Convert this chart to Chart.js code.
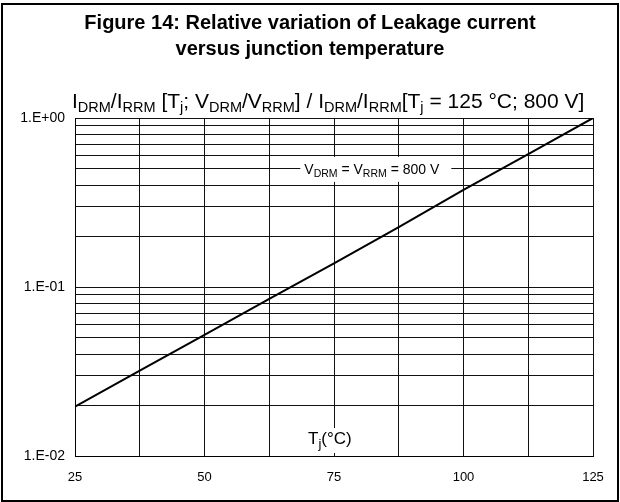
<!DOCTYPE html>
<html>
<head>
<meta charset="utf-8">
<script src="https://cdn.jsdelivr.net/npm/chart.js@4.4.1/dist/chart.umd.min.js"></script>
<style>
  html, body { margin: 0; padding: 0; background: #fff; }
  #wrap { position: relative; width: 620px; height: 502px; }
  #frame { position: absolute; left: 1px; top: 3px; width: 614px; height: 495px; border: 2px solid #000; pointer-events: none; }
  canvas { position: absolute; left: 0; top: 0; }
</style>
</head>
<body>
<div id="wrap">
  <canvas id="grafico" width="620" height="502"></canvas>
  <div id="frame"></div>
</div>
<script>
// Tj (°C) and relative leakage current
const temperaturas = [25, 37.5, 50, 62.5, 75, 87.5, 100, 112.5, 125];
const relacao = [0.0196, 0.032, 0.052, 0.085, 0.138, 0.226, 0.375, 0.612, 1.0];

const xGrade = [25, 37.5, 50, 62.5, 75, 87.5, 100, 112.5, 125];
const xRotulos = [25, 50, 75, 100, 125];
const yGrade = [0.01, 0.02, 0.03, 0.04, 0.05, 0.06, 0.07, 0.08, 0.09,
                0.1, 0.2, 0.3, 0.4, 0.5, 0.6, 0.7, 0.8, 0.9, 1];
const yDecadas = [0.01, 0.1, 1];
const yRotulos = ["1.E-02", "1.E-01", "1.E+00"];

const tituloLinhas = ["Figure 14: Relative variation of Leakage current", "versus junction temperature"];
// [texto, subscrito?]
const tituloY = [["I"], ["DRM", 1], ["/I"], ["RRM", 1], [" [T"], ["j", 1], ["; V"], ["DRM", 1], ["/V"], ["RRM", 1],
                 ["] / I"], ["DRM", 1], ["/I"], ["RRM", 1], ["[T"], ["j", 1], [" = 125 °C; 800 V]"]];
const rotuloCurva = [["V"], ["DRM", 1], [" = V"], ["RRM", 1], [" = 800 V"]];
const rotuloX = [["T"], ["j", 1], ["(°C)"]];

const FONTE = '"Liberation Sans", Arial, sans-serif';

function larguraRica(ctx, partes, tam, tamSub) {
  let w = 0;
  for (const [t, sub] of partes) {
    ctx.font = `${sub ? tamSub : tam}px ${FONTE}`;
    w += ctx.measureText(t).width;
  }
  return w;
}

function desenharRico(ctx, partes, x, base, tam, tamSub, desloc) {
  ctx.textBaseline = "alphabetic";
  ctx.textAlign = "left";
  ctx.fillStyle = "#000";
  for (const [t, sub] of partes) {
    ctx.font = `${sub ? tamSub : tam}px ${FONTE}`;
    ctx.fillText(t, x, sub ? base + desloc : base);
    x += ctx.measureText(t).width;
  }
  return x;
}

const textos = {
  id: "textos",
  beforeDatasetsDraw(chart) {
    const ctx = chart.ctx;
    const xs = chart.scales.x, ys = chart.scales.y;
    ctx.save();
    // rótulo da curva, sobre a linha de 0.5
    const w1 = larguraRica(ctx, rotuloCurva, 14, 10.5);
    const x1 = xs.getPixelForValue(82.3) - w1 / 2;
    const y1 = ys.getPixelForValue(0.5);
    ctx.fillStyle = "#fff";
    ctx.fillRect(x1 - 4, y1 - 12, w1 + 16, 25);
    desenharRico(ctx, rotuloCurva, x1, y1 + 5, 14, 10.5, 3);
    // título do eixo x
    const w2 = larguraRica(ctx, rotuloX, 17, 13);
    const x2 = xs.getPixelForValue(70);
    ctx.fillStyle = "#fff";
    ctx.fillRect(x2 - 2, ys.bottom - 28, w2 + 4, 25);
    desenharRico(ctx, rotuloX, x2, ys.bottom - 12, 17, 13, 4);
    ctx.restore();
  },
  afterDraw(chart) {
    const ctx = chart.ctx;
    ctx.save();
    ctx.fillStyle = "#000";
    ctx.textAlign = "center";
    ctx.textBaseline = "alphabetic";
    ctx.font = `bold 20px ${FONTE}`;
    ctx.fillText(tituloLinhas[0], 310, 29);
    ctx.fillText(tituloLinhas[1], 310, 55);
    desenharRico(ctx, tituloY, 72, 108, 21, 14.5, 4);
    ctx.restore();
  }
};

new Chart(document.getElementById("grafico"), {
  type: "line",
  data: {
    datasets: [{
      data: temperaturas.map((t, i) => ({ x: t, y: relacao[i] })),
      borderColor: "#000",
      borderWidth: 2,
      pointRadius: 0,
      tension: 0,
      fill: false
    }]
  },
  options: {
    responsive: false,
    animation: false,
    devicePixelRatio: 1,
    layout: { padding: { top: 118, right: 27, left: 0, bottom: 0 } },
    plugins: { legend: { display: false }, tooltip: { enabled: false }, title: { display: false } },
    scales: {
      x: {
        type: "linear",
        min: 25,
        max: 125,
        afterBuildTicks: s => { s.ticks = xGrade.map(v => ({ value: v })); },
        afterFit: s => { s.height = 46; },
        ticks: {
          autoSkip: false,
          maxRotation: 0,
          padding: 14,
          color: "#000",
          font: { family: FONTE, size: 13 },
          callback: v => xRotulos.includes(v) ? String(v) : ""
        },
        grid: { color: "#111", lineWidth: 1, drawTicks: false },
        border: { color: "#000", width: 1 }
      },
      y: {
        type: "logarithmic",
        min: 0.01,
        max: 1,
        afterBuildTicks: s => { s.ticks = yGrade.map(v => ({ value: v })); },
        afterFit: s => { s.width = 75; },
        ticks: {
          autoSkip: false,
          padding: 10,
          color: "#000",
          font: { family: FONTE, size: 14 },
          callback: v => {
            const i = yDecadas.findIndex(d => Math.abs(d - v) < 1e-9);
            return i >= 0 ? yRotulos[i] : "";
          }
        },
        grid: { color: "#111", lineWidth: 1, drawTicks: false },
        border: { color: "#000", width: 1 }
      }
    }
  },
  plugins: [textos]
});
</script>
</body>
</html>
